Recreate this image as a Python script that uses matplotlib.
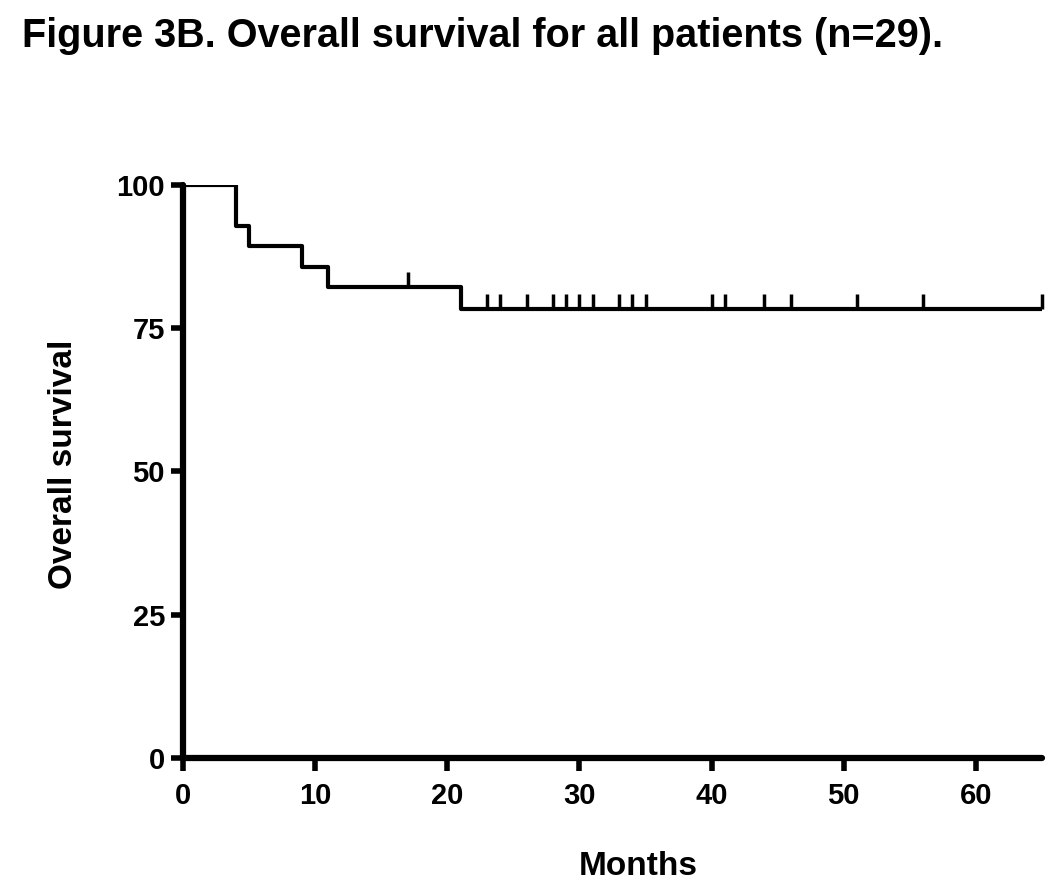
import matplotlib
matplotlib.use("Agg")
import matplotlib.pyplot as plt

# Kaplan-Meier steps (months, survival %)
step_months = [0, 4, 5, 9, 11, 21, 65]
step_surv = [100, 92.86, 89.29, 85.71, 82.14, 78.4, 78.4]

# censored patients (months)
censored = [17, 23, 24, 26, 28, 29, 30, 31, 33, 34, 35, 40, 41, 44, 46, 51, 56, 65]

x_ticks = [0, 10, 20, 30, 40, 50, 60]
y_ticks = [0, 25, 50, 75, 100]

plt.rcParams['font.family'] = ['Liberation Sans', 'DejaVu Sans']
plt.rcParams['font.weight'] = 'bold'

W, H = 1050, 889
fig = plt.figure(figsize=(W / 100, H / 100), dpi=100)
ax = fig.add_axes([0.1743, 0.1474, 0.8181, 0.6445])

ax.step(step_months, step_surv, where='post', color='black', lw=3, solid_capstyle='butt')

# censor ticks sit on the curve
def surv_at(t):
    s = step_surv[0]
    for m, v in zip(step_months, step_surv):
        if t >= m:
            s = v
    return s

cens_y = [surv_at(t) for t in censored]
ax.plot(censored, cens_y, linestyle='none', marker=2, markersize=11,
        markeredgewidth=2.5, color='black', clip_on=False)

ax.set_xlim(0, 65)
ax.set_ylim(0, 100)
ax.set_xticks(x_ticks)
ax.set_yticks(y_ticks)
for s in ['top', 'right']:
    ax.spines[s].set_visible(False)
for s in ['left', 'bottom']:
    ax.spines[s].set_linewidth(4.5)
    ax.spines[s].set_capstyle('round')
ax.tick_params(width=4, length=9, labelsize=21)
ax.tick_params(axis='x', pad=8)
ax.tick_params(axis='y', pad=4)
for lab in ax.get_xticklabels() + ax.get_yticklabels():
    lab.set_fontweight('bold')

ax.set_xlabel('Months', fontsize=24, fontweight='bold', va='baseline')
ax.xaxis.set_label_coords(638 / W, 1 - 875 / H, transform=fig.transFigure)
ax.set_ylabel('Overall survival', fontsize=24, fontweight='bold', va='center')
ax.yaxis.set_label_coords(64 / W, 1 - 464 / H, transform=fig.transFigure)

fig.text(0.021, 1 - 47 / H, 'Figure 3B. Overall survival for all patients (n=29).',
         fontsize=28.5, fontweight='bold', va='baseline', ha='left')

fig.savefig('out.png', dpi=100)
